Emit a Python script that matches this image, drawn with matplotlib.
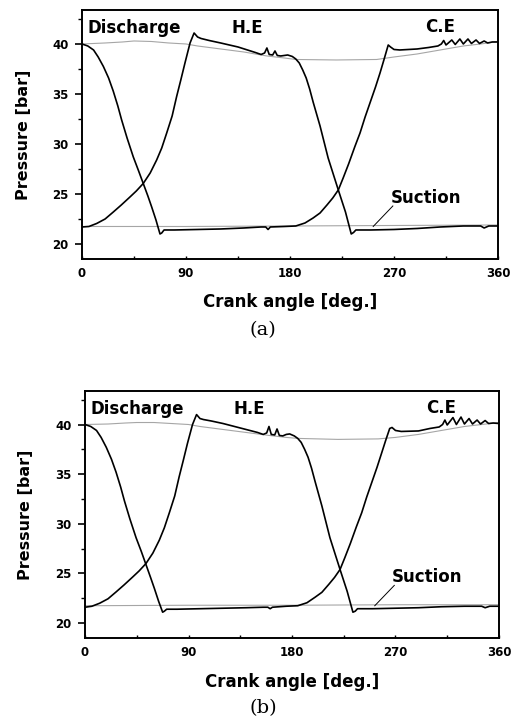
import matplotlib
matplotlib.use("Agg")
import matplotlib.pyplot as plt
from matplotlib.ticker import MultipleLocator

# crank-end (C.E) cylinder pressure
ce_angle = [0, 5, 10, 14, 18.5, 23, 27, 31, 34.3, 39,
            44.4, 49, 53, 57, 60.3, 64, 67.5, 69, 71, 80,
            100, 120, 140, 155, 159, 161, 163, 175, 185, 193,
            200, 206, 212, 217, 221.8, 226, 230.7, 236, 240.6, 245,
            249.2, 254, 257.9, 261.5, 265, 267, 270, 275, 290, 300,
            308, 311, 313, 315, 320, 323, 327, 330, 334, 337,
            341, 344, 348, 351, 355, 360]
ce_a = [40.0, 39.8, 39.4, 38.7, 37.75, 36.6, 35.3, 33.8, 32.4, 30.6,
        28.7, 27.3, 26.05, 24.8, 23.7, 22.4, 21.0, 21.1, 21.4, 21.4,
        21.45, 21.5, 21.6, 21.7, 21.7, 21.45, 21.7, 21.75, 21.8, 22.1,
        22.6, 23.1, 23.9, 24.6, 25.4, 26.6, 28.0, 29.7, 31.1, 32.7,
        34.1, 35.7, 37.1, 38.5, 39.9, 39.7, 39.45, 39.4, 39.5, 39.65,
        39.8, 40.0, 40.35, 39.9, 40.4, 39.95, 40.5, 40.0, 40.5, 40.05,
        40.4, 40.05, 40.3, 40.1, 40.2, 40.2]
ce_b = [40.0, 39.8, 39.4, 38.7, 37.7, 36.5, 35.2, 33.7, 32.3, 30.5,
        28.6, 27.2, 25.9, 24.6, 23.5, 22.2, 21.1, 21.2, 21.4, 21.4,
        21.45, 21.5, 21.55, 21.6, 21.6, 21.45, 21.6, 21.7, 21.75, 22.05,
        22.6, 23.1, 23.9, 24.6, 25.4, 26.6, 28.0, 29.7, 31.1, 32.7,
        34.1, 35.7, 37.1, 38.4, 39.6, 39.7, 39.4, 39.3, 39.35, 39.6,
        39.75, 40.0, 40.45, 39.95, 40.7, 40.0, 40.75, 40.05, 40.6, 40.05,
        40.45, 40.05, 40.4, 40.1, 40.15, 40.1]

# head-end (H.E) cylinder pressure
he_angle = [0, 6, 12.7, 20, 27.1, 34, 41.5, 47, 53, 59,
            64.6, 69, 73.3, 78, 81.9, 85.5, 89.1, 93.5, 97, 100,
            103, 110, 120, 135, 150, 155, 158, 160, 162, 165,
            167, 169, 172, 175, 178, 182, 185, 188, 191, 194,
            197, 200, 206, 213, 221.8, 228, 233, 235, 237, 250,
            270, 290, 310, 330, 345, 348, 352, 360]
he_a = [21.7, 21.75, 22.05, 22.5, 23.2, 23.9, 24.7, 25.3, 26.05, 27.1,
        28.4, 29.6, 31.1, 32.8, 34.75, 36.4, 38.1, 40.1, 41.1, 40.7,
        40.55, 40.35, 40.1, 39.7, 39.15, 38.95, 39.1, 39.6, 38.95, 38.9,
        39.3, 38.85, 38.8, 38.85, 38.9, 38.75, 38.5, 38.1, 37.4, 36.6,
        35.5, 34.2, 31.8, 28.6, 25.4, 23.2, 21.0, 21.15, 21.4, 21.4,
        21.45, 21.55, 21.7, 21.8, 21.8, 21.6, 21.8, 21.8]
he_b = [21.6, 21.7, 22.0, 22.45, 23.15, 23.85, 24.65, 25.25, 26.0, 27.05,
        28.35, 29.6, 31.1, 32.8, 34.75, 36.4, 38.1, 40.0, 41.0, 40.6,
        40.5, 40.35, 40.1, 39.65, 39.2, 39.0, 39.15, 39.8, 39.0, 38.95,
        39.55, 38.9, 38.85, 39.0, 39.05, 38.85, 38.6, 38.2, 37.5, 36.7,
        35.6, 34.3, 31.8, 28.6, 25.4, 23.2, 21.1, 21.2, 21.45, 21.45,
        21.5, 21.55, 21.65, 21.7, 21.7, 21.55, 21.7, 21.7]

# line pressures (discharge and suction)
dis_angle = [0, 20, 35, 45, 60, 75, 90, 100, 120, 140, 160, 175, 185, 220, 255,
             270, 290, 310, 330, 345, 360]
dis_a = [40.0, 40.1, 40.2, 40.3, 40.25, 40.1, 40.0, 39.8, 39.5, 39.2, 38.8,
         38.6, 38.45, 38.4, 38.45, 38.7, 39.0, 39.4, 39.8, 40.0, 40.25]
dis_b = [40.0, 40.05, 40.15, 40.2, 40.2, 40.1, 40.0, 39.8, 39.5, 39.2, 38.9,
         38.7, 38.6, 38.5, 38.55, 38.7, 39.0, 39.4, 39.8, 40.0, 40.2]
suc_angle = [0, 90, 180, 270, 360]
suc_a = [21.75, 21.75, 21.8, 21.85, 21.9]
suc_b = [21.75, 21.8, 21.8, 21.85, 21.85]

panels = [
    ([0.1577, 0.6393, 0.800, 0.3468], ce_a, he_a, dis_a, suc_a, "(a)", 0.5405,
     -0.123, -0.137),
    ([0.1635, 0.1114, 0.796, 0.3444], ce_b, he_b, dis_b, suc_b, "(b)", 0.0139,
     -0.126, -0.142),
]

fig = plt.figure(figsize=(5.2, 7.18), dpi=100)
bold = dict(fontfamily="DejaVu Sans", fontweight="bold")

for rect, ce, he, dis, suc, tag, tag_y, ylab_x, xlab_y in panels:
    ax = fig.add_axes(rect)
    ax.plot(dis_angle, dis, color="0.65", lw=0.8)
    ax.plot(suc_angle, suc, color="0.65", lw=0.8)
    ax.plot(ce_angle, ce, color="black", lw=1.2)
    ax.plot(he_angle, he, color="black", lw=1.2)

    ax.set_xlim(0, 360)
    ax.set_ylim(18.5, 43.4)
    ax.xaxis.set_major_locator(MultipleLocator(90))
    ax.xaxis.set_minor_locator(MultipleLocator(45))
    ax.yaxis.set_minor_locator(MultipleLocator(2.5))
    ax.set_yticks([20, 25, 30, 35, 40])
    ax.tick_params(axis="y", which="major", length=5, width=1.2, pad=4.5,
                   labelsize=8.5)
    ax.tick_params(axis="y", which="minor", length=3, width=1)
    ax.tick_params(axis="x", which="both", direction="in", length=2.5,
                   width=1, pad=6, labelsize=8.5)
    for lab in ax.get_xticklabels() + ax.get_yticklabels():
        lab.set_fontweight("bold")
    for sp in ax.spines.values():
        sp.set_linewidth(1.4)

    ax.set_xlabel("Crank angle [deg.]", fontsize=12, **bold)
    ax.set_ylabel("Pressure [bar]", fontsize=11.5, **bold)
    ax.xaxis.set_label_coords(0.5, xlab_y)
    ax.yaxis.set_label_coords(ylab_x, 0.5)

    ax.text(5, 41.6, "Discharge", fontsize=12, ha="left", va="center", **bold)
    ax.text(143, 41.6, "H.E", fontsize=12, ha="center", va="center", **bold)
    ax.text(310, 41.7, "C.E", fontsize=12, ha="center", va="center", **bold)
    ax.plot([252, 269], [21.75, 23.8], color="black", lw=0.7)
    ax.text(267, 24.6, "Suction", fontsize=12, ha="left", va="center", **bold)

    fig.text(0.506, tag_y, tag, fontsize=14, ha="center", va="center",
             fontfamily="DejaVu Serif")

fig.savefig("out.png", dpi=100)
